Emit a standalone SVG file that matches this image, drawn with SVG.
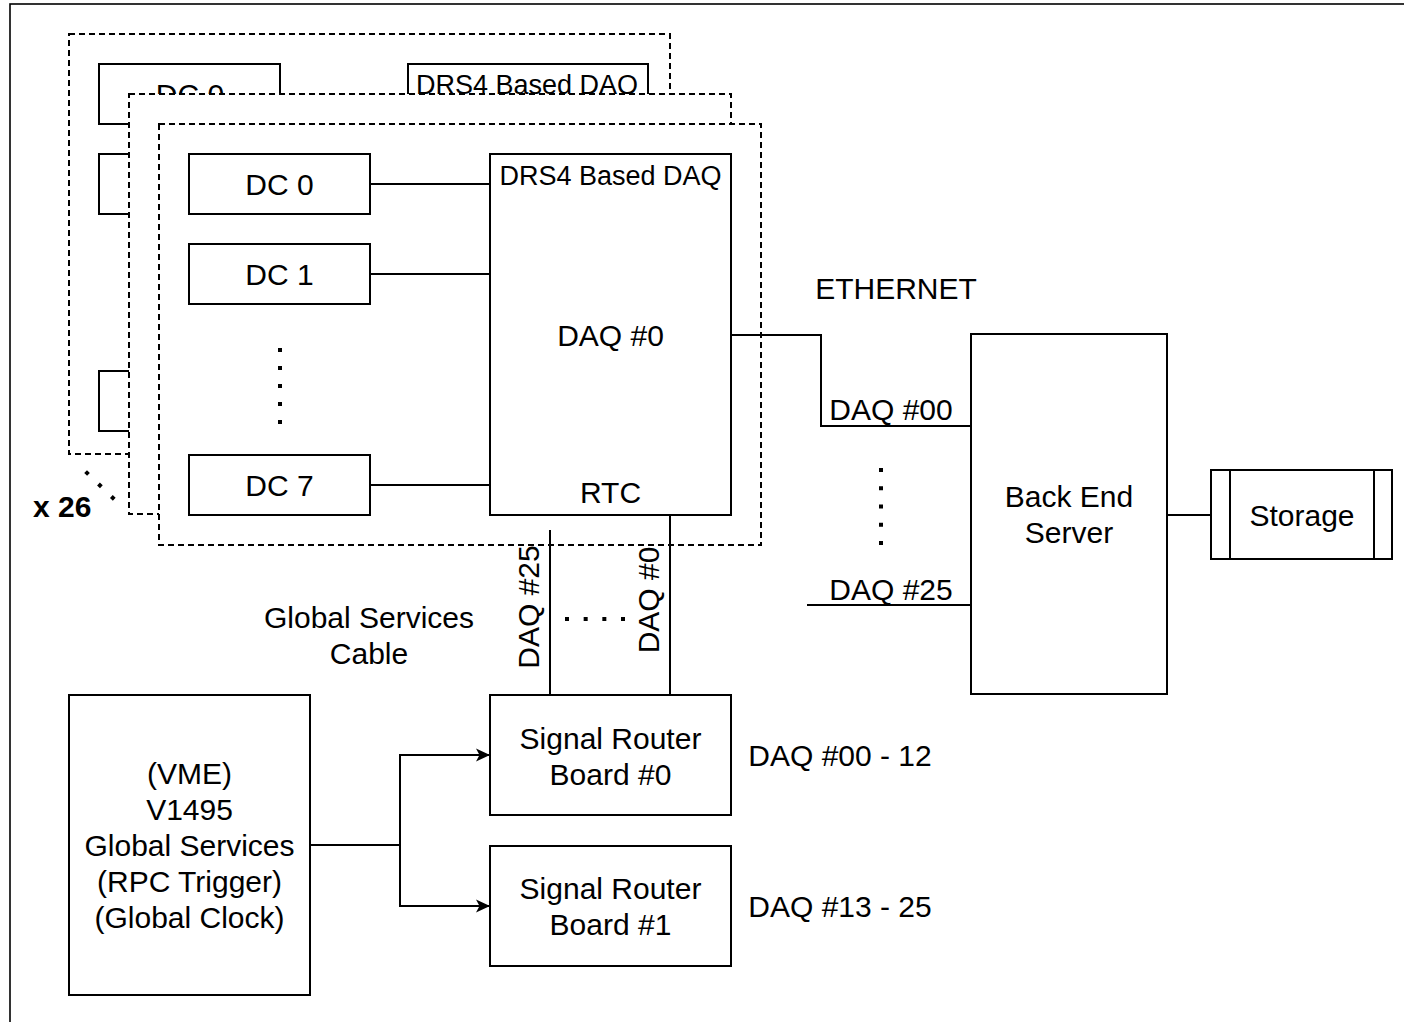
<svg xmlns="http://www.w3.org/2000/svg" width="1404" height="1022" viewBox="0 0 1404 1022">
<style>
.b{fill:#fff;stroke:#000;stroke-width:2}
.d{fill:#fff;stroke:#000;stroke-width:2;stroke-dasharray:6 4}
.l{fill:none;stroke:#000;stroke-width:2}
.dot{fill:none;stroke:#000;stroke-width:4}
text{font-family:"Liberation Sans",Arial,Helvetica,sans-serif;font-size:30px;fill:#000;text-anchor:middle}
.s{font-size:27px}
</style>
<defs>
<marker id="arr" markerUnits="userSpaceOnUse" markerWidth="16" markerHeight="14" refX="14" refY="7" orient="auto">
<path d="M14,7 L0,0.5 L3.5,7 L0,13.5 Z" fill="#000"/>
</marker>
</defs>
<rect width="1404" height="1022" fill="#fff"/>
<rect id="frame" x="10" y="4" width="1420" height="1040" fill="none" stroke="#000" stroke-width="1.6"/>

<g id="layer-back">
<rect class="d" x="69" y="34" width="601" height="420"/>
<rect class="b" x="99" y="64" width="181" height="60"/>
<text x="190" y="105">DC 0</text>
<rect class="b" x="99" y="154" width="181" height="60"/>
<rect class="b" x="99" y="371" width="181" height="60"/>
<rect class="b" x="408" y="64" width="240" height="361"/>
<text class="s" x="527" y="94">DRS4 Based DAQ</text>
</g>

<g id="layer-middle">
<rect class="d" x="129" y="94" width="602" height="420"/>
</g>

<g id="layer-front">
<rect class="d" x="159" y="124" width="602" height="421"/>
</g>

<g id="dc0"><rect class="b" x="189" y="154" width="181" height="60"/><text x="279.5" y="195">DC 0</text></g>
<g id="dc1"><rect class="b" x="189" y="244" width="181" height="60"/><text x="279.5" y="285">DC 1</text></g>
<g id="dc7"><rect class="b" x="189" y="455" width="181" height="60"/><text x="279.5" y="496">DC 7</text></g>
<g id="daq0">
<rect class="b" x="490" y="154" width="241" height="361"/>
<text class="s" x="610.5" y="185">DRS4 Based DAQ</text>
<text x="610.5" y="346">DAQ #0</text>
<text x="610.5" y="503">RTC</text>
</g>
<g id="server">
<rect class="b" x="971" y="334" width="196" height="360"/>
<text x="1069" y="507">Back End</text>
<text x="1069" y="543">Server</text>
</g>
<g id="storage">
<rect class="b" x="1211" y="470" width="181" height="89"/>
<line class="l" x1="1230" y1="470" x2="1230" y2="559"/>
<line class="l" x1="1374" y1="470" x2="1374" y2="559"/>
<text x="1302" y="526">Storage</text>
</g>
<g id="srb0">
<rect class="b" x="490" y="695" width="241" height="120"/>
<text x="610.5" y="749">Signal Router</text>
<text x="610.5" y="785">Board #0</text>
</g>
<g id="srb1">
<rect class="b" x="490" y="846" width="241" height="120"/>
<text x="610.5" y="899">Signal Router</text>
<text x="610.5" y="935">Board #1</text>
</g>
<g id="vme">
<rect class="b" x="69" y="695" width="241" height="300"/>
<text x="189.5" y="784">(VME)</text>
<text x="189.5" y="820">V1495</text>
<text x="189.5" y="856">Global Services</text>
<text x="189.5" y="892">(RPC Trigger)</text>
<text x="189.5" y="928">(Global Clock)</text>
</g>

<g id="connectors">
<line class="l" x1="370" y1="184" x2="490" y2="184"/>
<line class="l" x1="370" y1="274" x2="490" y2="274"/>
<line class="l" x1="370" y1="485" x2="490" y2="485"/>
<polyline class="l" points="731,335 821,335 821,426 971,426"/>
<line class="l" x1="807" y1="605" x2="971" y2="605"/>
<line class="l" x1="1167" y1="515" x2="1211" y2="515"/>
<line class="l" x1="550" y1="530" x2="550" y2="695"/>
<line class="l" x1="670" y1="515" x2="670" y2="695"/>
<polyline class="l" points="310,845 400,845 400,755 490,755" marker-end="url(#arr)"/>
<polyline class="l" points="400,845 400,906 490,906" marker-end="url(#arr)"/>
</g>

<g id="dots">
<line class="dot" x1="280" y1="348" x2="280" y2="424" stroke-dasharray="4 14"/>
<line class="dot" x1="881" y1="468" x2="881" y2="545" stroke-dasharray="4 14.25"/>
<line class="dot" x1="565" y1="619" x2="625" y2="619" stroke-dasharray="4 14.67"/>
<line class="dot" x1="85.6" y1="471.6" x2="114.4" y2="499.4" stroke-dasharray="4 13.9"/>
</g>

<g id="labels">
<text x="896" y="299">ETHERNET</text>
<text x="891" y="420">DAQ #00</text>
<text x="891" y="600">DAQ #25</text>
<text x="369" y="628">Global Services</text>
<text x="369" y="664">Cable</text>
<text x="840" y="766">DAQ #00 - 12</text>
<text x="840" y="917">DAQ #13 - 25</text>
<text transform="translate(539,607) rotate(-90)">DAQ #25</text>
<text transform="translate(659,600) rotate(-90)">DAQ #0</text>
<text x="33" y="517" style="text-anchor:start;font-weight:bold">x 26</text>
</g>
</svg>
